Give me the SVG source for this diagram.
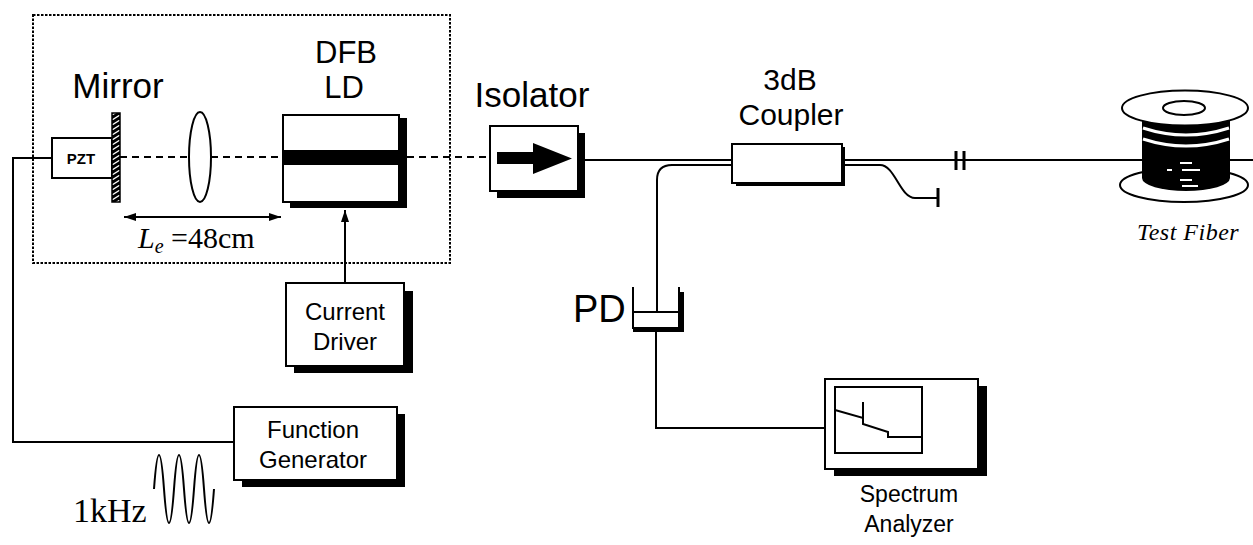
<svg xmlns="http://www.w3.org/2000/svg" width="1253" height="545" viewBox="0 0 1253 545">
  <style>
    .sans{font-family:"Liberation Sans",Arial,sans-serif;fill:#000}
    .serif{font-family:"Liberation Serif","Times New Roman",serif;fill:#000}
    .big{font-size:35px}
    .mid{font-size:24px}
    .box{fill:#fff;stroke:#000;stroke-width:2}
    .shadow{fill:#000}
    .wire{fill:none;stroke:#000;stroke-width:2}
    .beam{fill:none;stroke:#000;stroke-width:2;stroke-dasharray:7,5}
    .frame{fill:none;stroke:#000;stroke-width:2;stroke-dasharray:2.5,1.5}
  </style>
  <defs>
    <marker id="arrow" viewBox="0 0 12 10" refX="12" refY="5" markerWidth="12" markerHeight="10" markerUnits="userSpaceOnUse" orient="auto-start-reverse">
      <path d="M0,1 L12,5 L0,9 Z" fill="#000"/>
    </marker>
    <pattern id="hatch" patternUnits="userSpaceOnUse" width="8" height="5">
      <rect width="8" height="5" fill="#000"/>
      <path d="M0,5 L8,0" stroke="#fff" stroke-width="1.3"/>
    </pattern>
  </defs>

  <rect width="1253" height="545" fill="#fff"/>

  <!-- external cavity enclosure -->
  <rect id="cavity" class="frame" x="33" y="15" width="417" height="248"/>

  <!-- connectors: beam path, fibers and electrical wires -->
  <g id="connectors">
    <path class="beam" d="M120,157 H189 M211,157 H283 M407,157 H490"/>
    <path class="wire" d="M52,158 H13 V442 H234"/>
    <line class="wire" x1="345" y1="283" x2="345" y2="210" marker-end="url(#arrow)"/>
    <line class="wire" x1="124" y1="217" x2="281" y2="217" marker-start="url(#arrow)" marker-end="url(#arrow)"/>
    <path class="wire" d="M585,160 H732"/>
    <path class="wire" d="M732,165 H672 Q657,165 657,180 V312"/>
    <path class="wire" d="M845,160 H1142 M1230,160 H1253"/>
    <path class="wire" d="M845,165 H880 C895,165 900,198 915,198 H938"/>
    <path d="M938,188 V207" stroke="#000" stroke-width="3"/>
    <path d="M956,151 V170 M964,151 V170" stroke="#000" stroke-width="3"/>
    <path class="wire" d="M656,332 V428 H825"/>
  </g>

  <!-- PZT and mirror -->
  <g id="pzt">
    <rect class="box" x="52" y="138" width="60" height="40"/>
    <text class="sans" x="81" y="164" font-size="15" font-weight="bold" text-anchor="middle">PZT</text>
  </g>
  <g id="mirror">
    <rect x="112" y="113" width="8" height="89" fill="url(#hatch)" stroke="#000" stroke-width="1.5"/>
    <text class="sans big" x="118" y="98" text-anchor="middle">Mirror</text>
  </g>

  <!-- lens -->
  <g id="lens">
    <ellipse cx="200" cy="157" rx="11" ry="45" fill="#fff" stroke="#000" stroke-width="2"/>
  </g>

  <!-- DFB laser diode -->
  <g id="dfb-ld">
    <rect class="shadow" x="290" y="118" width="117" height="90"/>
    <rect class="box" x="283" y="115" width="116" height="87"/>
    <rect x="283" y="150" width="117" height="15" fill="#000"/>
    <text class="sans" font-size="31" x="346" y="63" text-anchor="middle">DFB</text>
    <text class="sans" font-size="31" x="344" y="98" text-anchor="middle">LD</text>
  </g>

  <!-- external cavity length -->
  <text class="serif" font-size="30" x="138" y="248"><tspan font-style="italic">L</tspan><tspan font-style="italic" font-size="20" dy="5">e</tspan><tspan dy="-5"> =48cm</tspan></text>

  <!-- current driver -->
  <g id="current-driver">
    <rect class="shadow" x="294" y="291" width="119" height="82"/>
    <rect class="box" x="286" y="283" width="118" height="83"/>
    <text class="sans mid" x="345" y="320" text-anchor="middle">Current</text>
    <text class="sans mid" x="345" y="350" text-anchor="middle">Driver</text>
  </g>

  <!-- function generator -->
  <g id="function-generator">
    <rect class="shadow" x="242" y="414" width="163" height="73"/>
    <rect class="box" x="234" y="407" width="163" height="73"/>
    <text class="sans mid" x="313" y="438" text-anchor="middle">Function</text>
    <text class="sans mid" x="313" y="468" text-anchor="middle">Generator</text>
  </g>
  <g id="modulation">
    <path class="wire" d="M154,489 Q159,421 164,489 T174,489 T184,489 T194,489 T204,489 T214,489"/>
    <text class="serif" font-size="34" x="73" y="522">1kHz</text>
  </g>

  <!-- isolator -->
  <g id="isolator">
    <rect class="shadow" x="497" y="133" width="88" height="65"/>
    <rect class="box" x="490" y="126" width="88" height="65"/>
    <path d="M497,152 H533 V143 L572,158.5 L533,174 V164 H497 Z" fill="#000"/>
    <text class="sans big" x="532" y="107" text-anchor="middle">Isolator</text>
  </g>

  <!-- 3dB coupler -->
  <g id="coupler">
    <rect class="shadow" x="736" y="147" width="109" height="39"/>
    <rect class="box" x="732" y="144" width="110" height="39"/>
    <text class="sans" font-size="30" x="790" y="90" text-anchor="middle">3dB</text>
    <text class="sans" font-size="30" x="791" y="125" text-anchor="middle">Coupler</text>
  </g>

  <!-- fiber spool under test -->
  <g id="test-fiber">
    <ellipse cx="1184" cy="185" rx="64" ry="17" fill="#fff" stroke="#000" stroke-width="2"/>
    <path d="M1142,112 V178 A44,13 0 0 0 1230,178 V112 Z" fill="#000"/>
    <path d="M1143,128 Q1186,142 1229,128 M1143,139 Q1186,153 1229,139" fill="none" stroke="#fff" stroke-width="3"/>
    <path d="M1180,163 H1192 M1167,170 H1172 M1182,170 H1200 M1180,180 H1192 M1182,186 H1198" stroke="#fff" stroke-width="2"/>
    <ellipse cx="1185" cy="108" rx="63" ry="17.5" fill="#fff" stroke="#000" stroke-width="2"/>
    <ellipse cx="1184" cy="108" rx="21" ry="7" fill="#fff" stroke="#000" stroke-width="2"/>
    <text class="serif" font-size="24" font-style="italic" x="1137" y="240" letter-spacing="0.5">Test Fiber</text>
  </g>

  <!-- photodetector -->
  <g id="pd">
    <rect class="shadow" x="679" y="292" width="5" height="40"/>
    <rect class="shadow" x="633" y="327" width="51" height="5"/>
    <rect class="box" x="633" y="312" width="46" height="16"/>
    <path d="M633,287 V312 M679,287 V312" stroke="#000" stroke-width="2"/>
    <text class="sans" font-size="38" x="573" y="322">PD</text>
  </g>

  <!-- spectrum analyzer -->
  <g id="spectrum-analyzer">
    <rect class="shadow" x="834" y="386" width="153" height="90"/>
    <rect class="box" x="825" y="379" width="153" height="90"/>
    <rect x="835" y="387" width="87" height="66" fill="#fff" stroke="#000" stroke-width="2"/>
    <path class="wire" d="M835,410 L863,418 V402 M863,418 V424 L888,432 V437 H922"/>
    <text class="sans" font-size="23" x="909" y="502" text-anchor="middle">Spectrum</text>
    <text class="sans" font-size="23" x="909" y="532" text-anchor="middle">Analyzer</text>
  </g>
</svg>
